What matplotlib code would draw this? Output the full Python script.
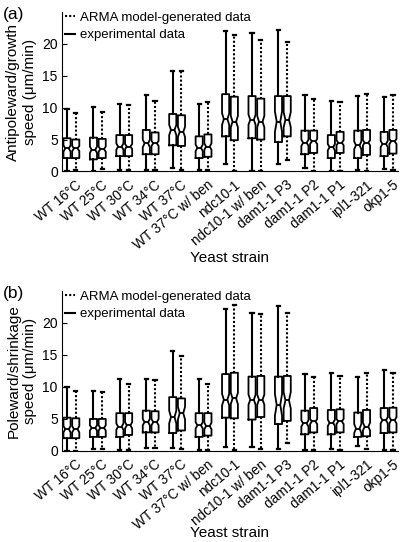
import matplotlib
matplotlib.use("Agg")
import matplotlib.pyplot as plt
from matplotlib.lines import Line2D

plt.rcParams["font.family"] = ["Liberation Sans", "DejaVu Sans"]

strains = ["WT 16°C", "WT 25°C", "WT 30°C", "WT 34°C", "WT 37°C",
           "WT 37°C w/ ben", "ndc10-1", "ndc10-1 w/ ben", "dam1-1 P3",
           "dam1-1 P2", "dam1-1 P1", "ipl1-321", "okp1-5"]

# (a) antipoleward / growth speed -- experimental
a_exp_lo  = [0.0, 0.0, 0.2, 0.2, 0.5, 0.2, 1.2, 0.0, 1.2, 0.5, 0.1, 0.2, 0.4]
a_exp_q1  = [2.1, 1.9, 2.4, 2.7, 4.1, 2.1, 5.5, 5.2, 4.6, 2.7, 2.1, 2.1, 2.4]
a_exp_med = [3.6, 3.4, 3.9, 4.4, 6.5, 3.7, 8.2, 8.1, 7.8, 4.5, 3.8, 4.1, 4.3]
a_exp_q3  = [5.2, 5.3, 5.7, 6.5, 9.0, 5.5, 12.1, 11.8, 11.8, 6.4, 5.7, 6.4, 6.2]
a_exp_hi  = [9.7, 10.1, 10.5, 12.0, 15.8, 10.6, 22.0, 21.6, 22.1, 12.0, 11.0, 11.8, 11.6]
a_exp_nh  = [0.5, 0.5, 0.5, 0.6, 0.8, 0.5, 0.9, 0.8, 1.6, 0.5, 0.5, 0.6, 0.5]
# (a) -- ARMA model-generated
a_arm_lo  = [0.2, 0.4, 0.2, 0.3, 0.3, 0.2, 0.0, 0.0, 1.8, 0.1, 0.1, 0.1, 0.2]
a_arm_q1  = [2.1, 2.1, 2.4, 2.7, 4.0, 2.3, 4.9, 5.0, 5.5, 2.9, 2.9, 2.6, 2.8]
a_arm_med = [3.6, 3.5, 3.9, 4.4, 6.2, 3.9, 7.8, 7.8, 8.1, 4.7, 4.5, 4.5, 4.7]
a_arm_q3  = [5.0, 5.1, 5.7, 6.1, 8.8, 5.8, 11.7, 11.4, 11.8, 6.4, 6.2, 6.5, 6.5]
a_arm_hi  = [9.2, 9.3, 10.4, 11.0, 15.8, 10.9, 21.4, 20.6, 20.2, 11.3, 10.9, 12.1, 11.9]
a_arm_nh  = [0.4, 0.4, 0.4, 0.4, 0.8, 0.5, 0.9, 0.9, 1.2, 0.4, 0.4, 0.4, 0.4]

# (b) poleward / shrinkage speed -- experimental
b_exp_lo  = [0.0, 0.3, 0.2, 0.5, 0.4, 0.2, 0.7, 0.7, 0.3, 0.2, 0.3, 0.8, 0.2]
b_exp_q1  = [2.0, 2.2, 2.2, 2.9, 2.8, 2.2, 5.2, 4.9, 4.2, 2.6, 2.6, 2.2, 2.8]
b_exp_med = [3.4, 3.6, 3.8, 4.5, 5.3, 4.0, 8.0, 8.0, 7.2, 4.3, 4.4, 3.5, 4.8]
b_exp_q3  = [5.2, 5.0, 5.9, 6.3, 8.4, 5.9, 12.0, 11.6, 11.6, 6.3, 6.4, 6.0, 6.7]
b_exp_hi  = [10.0, 9.4, 11.3, 11.3, 15.6, 11.2, 22.1, 21.5, 22.6, 12.0, 12.1, 11.6, 12.6]
b_exp_nh  = [0.5, 0.4, 0.5, 0.5, 1.0, 0.5, 0.9, 0.8, 1.7, 0.5, 0.5, 0.7, 0.5]
# (b) -- ARMA model-generated
b_arm_lo  = [0.0, 0.3, 0.2, 0.4, 0.3, 0.2, 0.2, 0.3, 1.2, 0.2, 0.2, 0.3, 0.2]
b_arm_q1  = [2.0, 2.2, 2.5, 2.9, 3.2, 2.4, 5.1, 5.3, 4.7, 2.9, 2.9, 2.3, 2.9]
b_arm_med = [3.4, 3.6, 4.0, 4.5, 5.9, 3.9, 8.2, 8.0, 7.9, 4.6, 4.6, 3.8, 4.8]
b_arm_q3  = [5.1, 5.0, 5.9, 6.2, 8.2, 5.9, 12.2, 11.7, 11.7, 6.7, 6.5, 6.4, 6.75]
b_arm_hi  = [9.4, 9.2, 10.5, 11.0, 14.8, 10.5, 22.8, 21.3, 21.5, 11.5, 11.7, 12.2, 12.2]
b_arm_nh  = [0.5, 0.4, 0.5, 0.5, 1.0, 0.5, 0.9, 0.8, 1.3, 0.4, 0.4, 0.6, 0.5]


def make_stats(lo, q1, med, q3, hi, nh):
    return [dict(whislo=l, q1=a, med=m, q3=b, whishi=h,
                 cilo=m - n, cihi=m + n, fliers=[])
            for l, a, m, b, h, n in zip(lo, q1, med, q3, hi, nh)]


def draw_panel(ax, exp_stats, arm_stats, ylabel, tag, xlab_y):
    n = len(strains)
    pos = list(range(1, n + 1))
    common = dict(widths=0.27, shownotches=True, showcaps=True, capwidths=0.12,
                  manage_ticks=False,
                  boxprops=dict(color="k", lw=1.3),
                  medianprops=dict(color="k", lw=1.3),
                  capprops=dict(color="k", lw=1.6))
    ax.bxp(exp_stats, positions=pos,
           whiskerprops=dict(color="k", lw=1.5, ls="-"), **common)
    ax.bxp(arm_stats, positions=[p + 0.33 for p in pos],
           whiskerprops=dict(color="k", lw=1.5, ls=(0, (1, 1))), **common)

    ax.set_xlim(0.81, 13.52)
    ax.set_ylim(0, 25)
    ax.set_yticks([0, 5, 10, 15, 20])
    ax.set_xticks([p + 0.3 for p in pos])
    ax.set_xticklabels(strains, rotation=40, ha="right", va="top",
                       rotation_mode="anchor", fontsize=9.8)
    ax.tick_params(axis="x", length=0, pad=4.5)
    ax.tick_params(axis="y", direction="in", length=3.5, labelsize=10, pad=3)
    for s in ("top", "right"):
        ax.spines[s].set_visible(False)
    ax.set_ylabel(ylabel, fontsize=11, labelpad=4)
    ax.set_xlabel("Yeast strain", fontsize=11)
    ax.xaxis.set_label_coords(0.5, xlab_y)
    ax.text(-0.175, 1.03, tag, transform=ax.transAxes, fontsize=12.5,
            ha="left", va="top")

    handles = [Line2D([], [], color="k", lw=1.5, ls=(0, (1, 1))),
               Line2D([], [], color="k", lw=1.5, ls="-")]
    ax.legend(handles, ["ARMA model-generated data", "experimental data"],
              loc="upper left", bbox_to_anchor=(0.01, 1.0), frameon=False,
              fontsize=9.5, handlelength=0.7, handletextpad=0.4,
              labelspacing=0.4, borderaxespad=0, borderpad=0)


fig = plt.figure(figsize=(4.09, 5.42), dpi=100)
ax_a = fig.add_axes([0.1516, 0.6836, 0.8214, 0.2948])
ax_b = fig.add_axes([0.1516, 0.1679, 0.8214, 0.2958])

draw_panel(ax_a,
           make_stats(a_exp_lo, a_exp_q1, a_exp_med, a_exp_q3, a_exp_hi, a_exp_nh),
           make_stats(a_arm_lo, a_arm_q1, a_arm_med, a_arm_q3, a_arm_hi, a_arm_nh),
           "Antipoleward/growth\nspeed (\u03bcm/min)", "(a)", -0.495)
draw_panel(ax_b,
           make_stats(b_exp_lo, b_exp_q1, b_exp_med, b_exp_q3, b_exp_hi, b_exp_nh),
           make_stats(b_arm_lo, b_arm_q1, b_arm_med, b_arm_q3, b_arm_hi, b_arm_nh),
           "Poleward/shrinkage\nspeed (\u03bcm/min)", "(b)", -0.47)

fig.savefig("out.png", dpi=100)
